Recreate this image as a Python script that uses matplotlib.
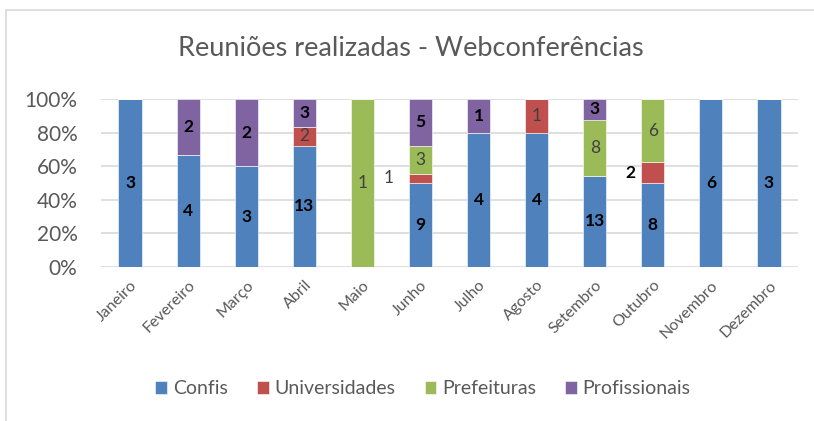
import numpy as np
import matplotlib.pyplot as plt
from matplotlib.patches import Rectangle

# Data
months = ['Janeiro', 'Fevereiro', 'Março', 'Abril', 'Maio', 'Junho', 'Julho',
          'Agosto', 'Setembro', 'Outubro', 'Novembro', 'Dezembro']
confis = [3, 4, 3, 13, 0, 9, 4, 4, 13, 8, 6, 3]
universidades = [0, 0, 0, 2, 0, 1, 0, 1, 0, 2, 0, 0]
prefeituras = [0, 0, 0, 0, 1, 3, 0, 0, 8, 6, 0, 0]
profissionais = [0, 2, 2, 3, 0, 5, 1, 0, 3, 0, 0, 0]

series = [('Confis', confis, '#4F81BD'),
          ('Universidades', universidades, '#C0504D'),
          ('Prefeituras', prefeituras, '#9BBB59'),
          ('Profissionais', profissionais, '#8064A2')]

plt.rcParams['font.family'] = ['Lato', 'DejaVu Sans']

totals = np.sum([s[1] for s in series], axis=0)
x = np.arange(len(months))

fig = plt.figure(figsize=(8.14, 4.21), dpi=100)
ax = fig.add_axes([101 / 814, 1 - 267 / 421, 697 / 814, 168 / 421])

# light chart border
fig.patches.append(Rectangle((6 / 814, -0.05), 1.0, 1.05 - 10 / 421,
                             transform=fig.transFigure, fill=False,
                             edgecolor='#D9D9D9', linewidth=1.2))

# labels that Excel pushed outside the thin segments
outside = {(1, 5): -0.55, (1, 9): -0.38}

bottom = np.zeros(len(months))
for k, (name, vals, color) in enumerate(series):
    vals = np.array(vals, dtype=float)
    pct = vals / totals * 100
    ax.bar(x, pct, 0.4, bottom=bottom, color=color, label=name,
           edgecolor='white', linewidth=0.4, zorder=3)
    for i, v in enumerate(vals):
        if v == 0:
            continue
        yc = bottom[i] + pct[i] / 2
        bold = name in ('Confis', 'Profissionais')
        col = 'black' if bold else '#404040'
        if (k, i) in outside:
            ax.text(x[i] + outside[(k, i)], yc, str(int(v)), ha='center', va='center',
                    fontsize=12.5, fontweight='bold' if i == 9 else 'normal',
                    color='black' if i == 9 else '#404040', zorder=4)
        else:
            ax.text(x[i], yc, str(int(v)), ha='center', va='center', fontsize=12.5,
                    fontweight='bold' if bold else 'normal', color=col, zorder=4)
    bottom += pct

ax.set_xlim(-0.5, len(months) - 0.5)
ax.set_ylim(0, 100)
ax.set_yticks(range(0, 101, 20))
ax.set_yticklabels([f'{v}%' for v in range(0, 101, 20)], fontsize=15, color='#595959')
ax.yaxis.grid(True, color='#D9D9D9', linewidth=1.2, zorder=0)
ax.set_xticks(x)
ax.set_xticklabels(months, rotation=45, ha='right', rotation_mode='anchor',
                   fontsize=11.5, color='#595959')
ax.tick_params(axis='x', length=0, pad=8)
ax.tick_params(axis='y', length=0, pad=17)
for sp in ax.spines.values():
    sp.set_visible(False)

fig.text(0.505, 1 - 48 / 421, 'Reuniões realizadas - Webconferências', ha='center',
         va='center', fontsize=19.5, color='#595959')

handles, labels = ax.get_legend_handles_labels()
fig.legend(handles, labels, loc='center', bbox_to_anchor=(423 / 814, 1 - 389 / 421),
           ncol=4, frameon=False, fontsize=14, handlelength=0.6, handleheight=0.6,
           handletextpad=0.3, columnspacing=1.5, labelcolor='#595959')

fig.savefig('out.png', dpi=100)
